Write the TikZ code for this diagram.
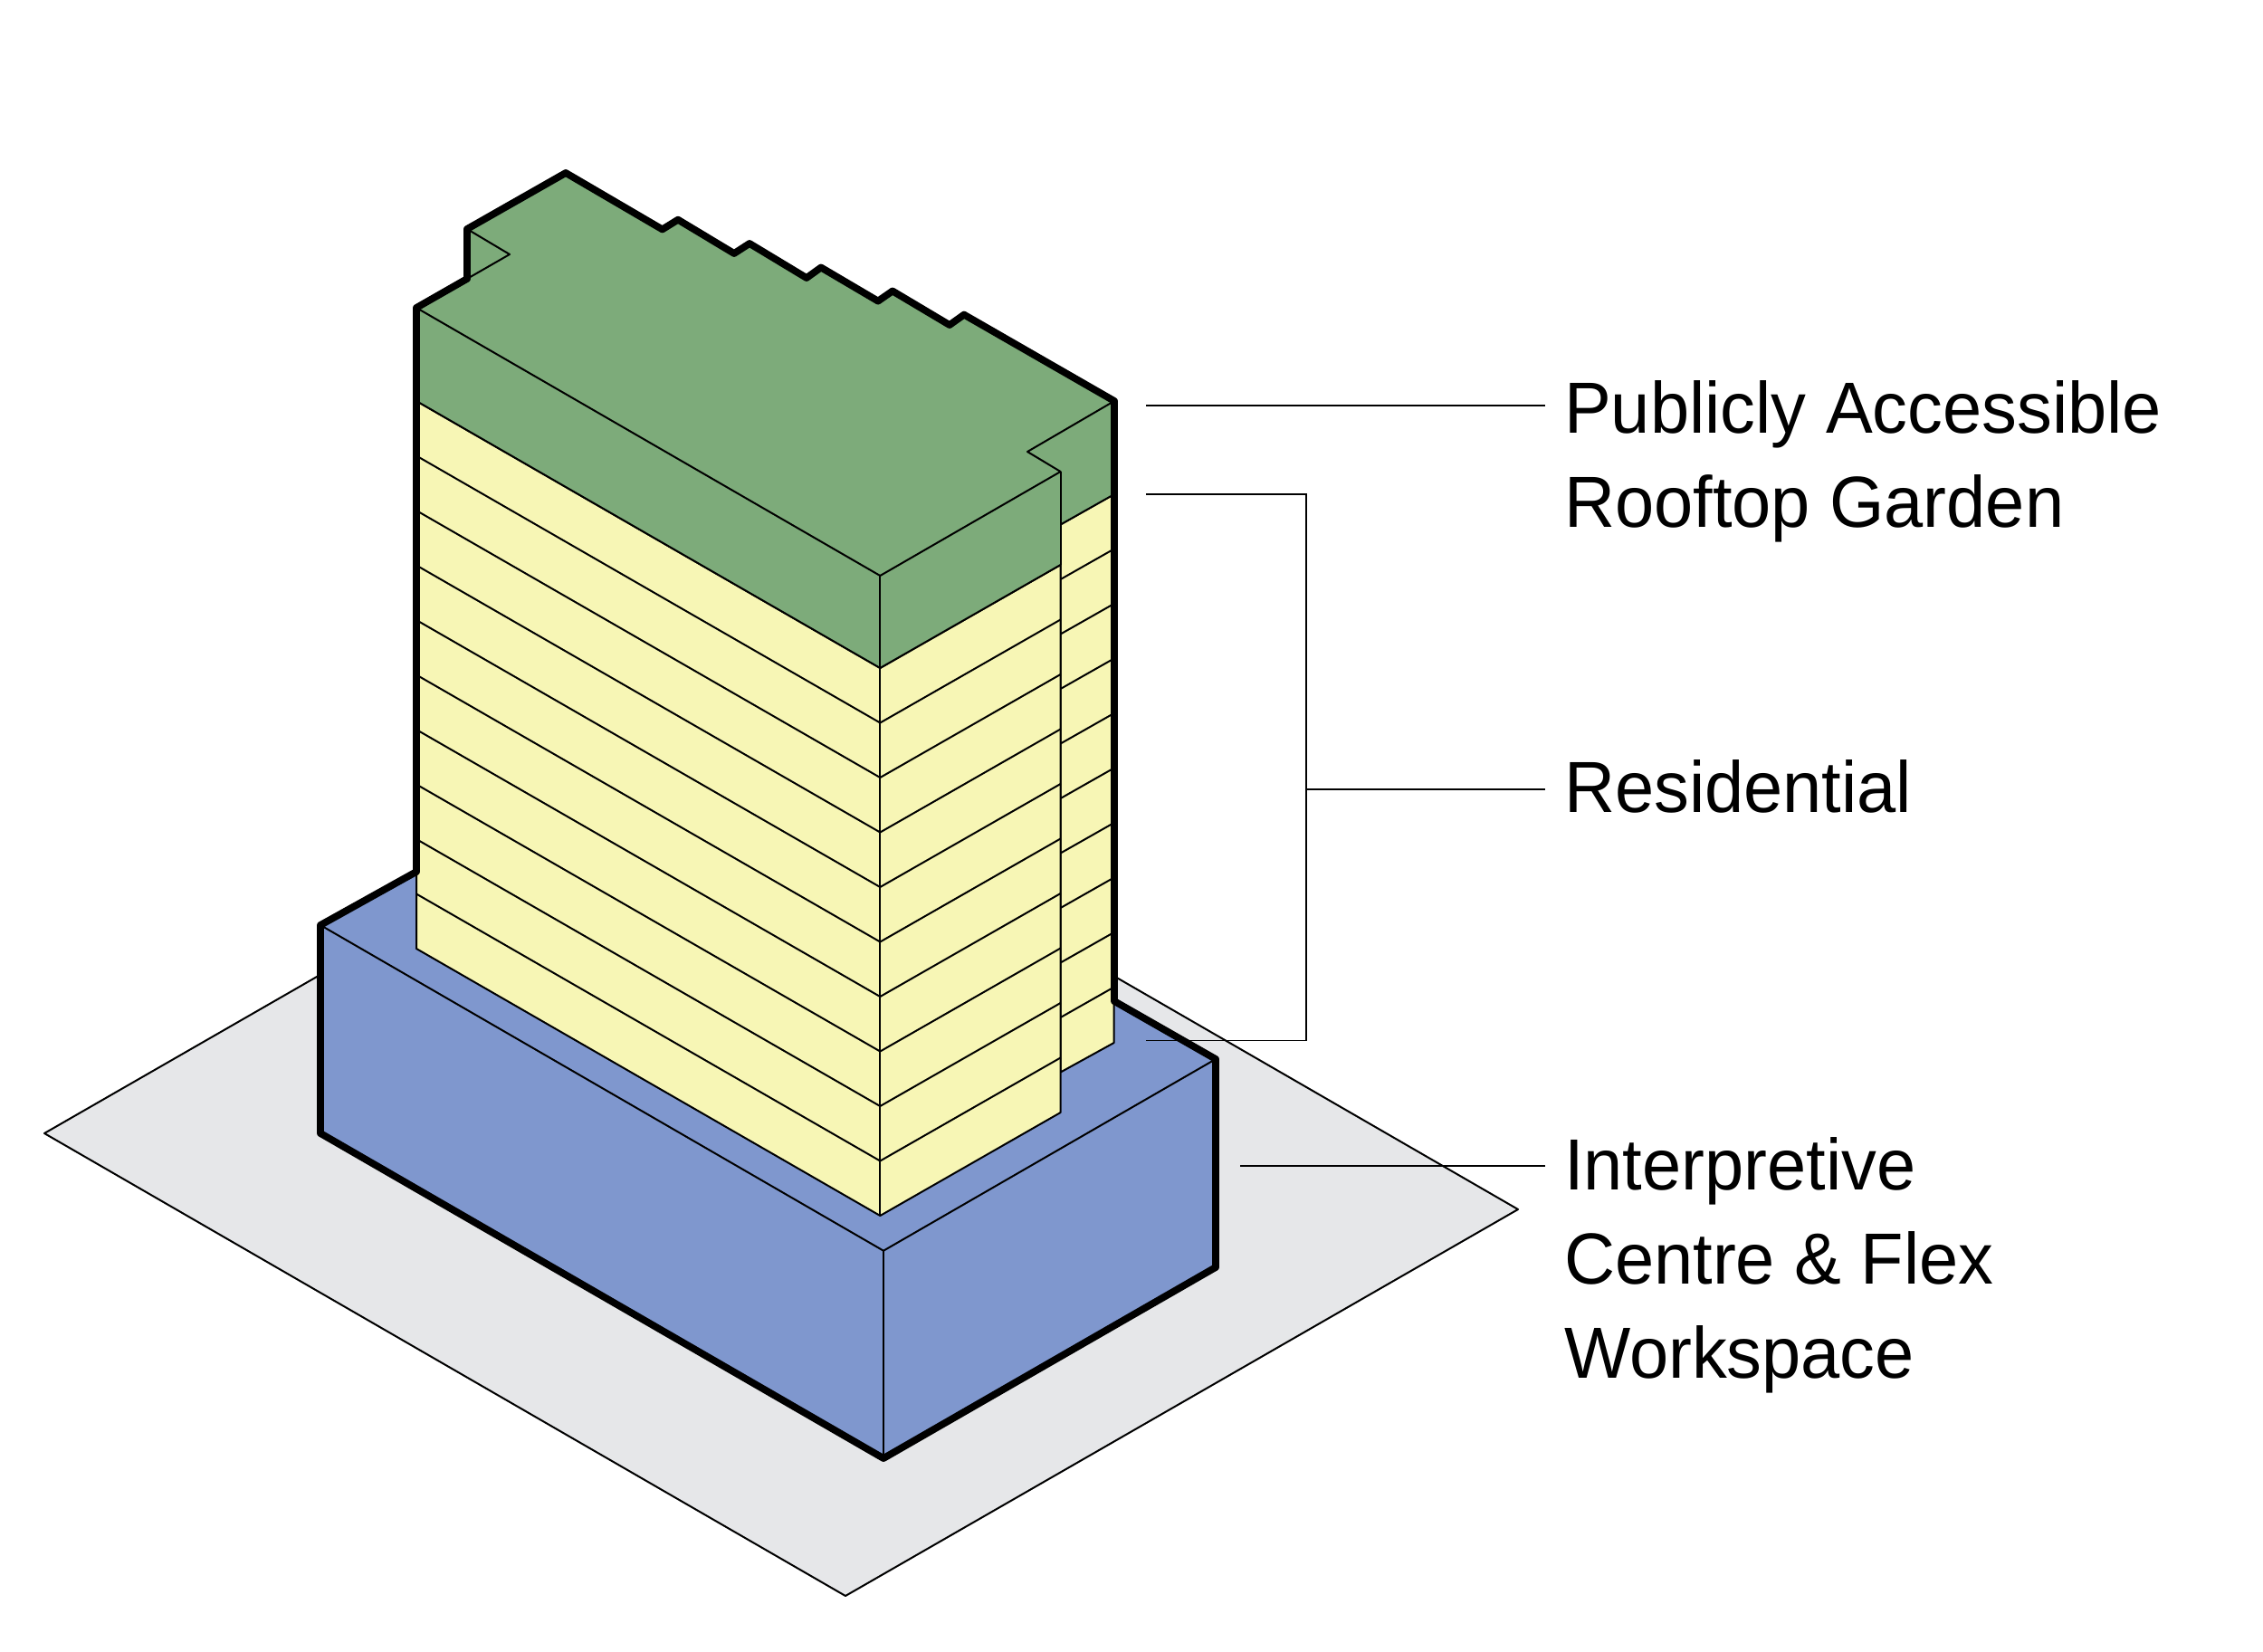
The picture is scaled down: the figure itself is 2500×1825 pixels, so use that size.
\documentclass[tikz,border=0pt]{standalone}
\usepackage{fontspec}
\setmainfont[FakeStretch=0.97]{Liberation Sans}
\definecolor{groundgrey}{HTML}{E6E7E9}
\definecolor{podiumblue}{HTML}{7F97CE}
\definecolor{flooryellow}{HTML}{F7F6B5}
\definecolor{roofgreen}{HTML}{7DAB7A}
\tikzset{
  thinline/.style={draw=black, line width=2pt, line join=round},
  outline/.style={draw=black, line width=7.8pt, line join=round},
  leader/.style={draw=black, line width=1.8pt},
  label/.style={anchor=base west, align=left, inner sep=0pt, font=\fontsize{80}{104}\selectfont}
}
\begin{document}
\begin{tikzpicture}[x=1pt,y=-1pt]
\useasboundingbox (0,0) rectangle (2500,1825);

\draw[thinline, fill=groundgrey] (49,1252) -- (792,825) -- (1677,1336) -- (934,1763) -- cycle;

\fill[podiumblue] (354,1022) -- (460,963) -- (1231,1106) -- (1343,1170) -- (1343,1400) -- (976,1611) -- (354,1252) -- cycle;
\draw[thinline] (354,1022) -- (976,1381.7) -- (1343,1170);
\draw[thinline] (976,1381.7) -- (976,1611);

\draw[thinline, fill=flooryellow] (1171.6,579.5) -- (1230.6,546) -- (1230.6,1152) -- (1171.6,1184.5) -- cycle;
\draw[thinline] (1171.6,640) -- (1230.6,606.5);
\draw[thinline] (1171.6,700.5) -- (1230.6,667);
\draw[thinline] (1171.6,761) -- (1230.6,727.5);
\draw[thinline] (1171.6,821.5) -- (1230.6,788);
\draw[thinline] (1171.6,882) -- (1230.6,848.5);
\draw[thinline] (1171.6,942.5) -- (1230.6,909);
\draw[thinline] (1171.6,1003) -- (1230.6,969.5);
\draw[thinline] (1171.6,1063.5) -- (1230.6,1030);
\draw[thinline] (1171.6,1124) -- (1230.6,1090.5);

\draw[thinline, fill=flooryellow] (460,443) -- (972.3,738) -- (1171.6,624) -- (1171.6,1229) -- (972.3,1343) -- (460,1048) -- cycle;
\draw[thinline] (460,503.5) -- (972.3,798.5) -- (1171.6,684.5);
\draw[thinline] (460,564) -- (972.3,859) -- (1171.6,745);
\draw[thinline] (460,624.5) -- (972.3,919.5) -- (1171.6,805.5);
\draw[thinline] (460,685) -- (972.3,980) -- (1171.6,866);
\draw[thinline] (460,745.5) -- (972.3,1040.5) -- (1171.6,926.5);
\draw[thinline] (460,806) -- (972.3,1101) -- (1171.6,987);
\draw[thinline] (460,866.5) -- (972.3,1161.5) -- (1171.6,1047.5);
\draw[thinline] (460,927) -- (972.3,1222) -- (1171.6,1108);
\draw[thinline] (460,987.5) -- (972.3,1282.5) -- (1171.6,1168.5);
\draw[thinline] (972.3,738) -- (972.3,1343);

\fill[roofgreen] (460,443) -- (460,340) -- (516,308) -- (516,253) -- (625,191) -- (731.7,253.4) -- (749,242.7) -- (811,280) -- (828,269) -- (891,307) -- (907,295.5) -- (970,332.6) -- (986,321.5) -- (1049,359) -- (1065,347.6) -- (1231,443) -- (1231,546) -- (1171.6,579.5) -- (1171.6,624) -- (972.3,738) -- cycle;
\draw[thinline] (460,443) -- (972.3,738) -- (1171.6,624);
\draw[thinline] (1171.6,579.5) -- (1231,546);
\draw[thinline] (460,340) -- (972.3,636) -- (1171.6,521) -- (1135,499) -- (1231,443);
\draw[thinline] (972.3,636) -- (972.3,738);
\draw[thinline] (1171.6,521) -- (1171.6,624);
\draw[thinline] (516,253) -- (563,281) -- (516,308);

\draw[outline] (354,1252) -- (354,1022) -- (460,963) -- (460,340) -- (516,308) -- (516,253) -- (625,191) -- (731.7,253.4) -- (749,242.7) -- (811,280) -- (828,269) -- (891,307) -- (907,295.5) -- (970,332.6) -- (986,321.5) -- (1049,359) -- (1065,347.6) -- (1231,443) -- (1231,1106) -- (1343,1170) -- (1343,1400) -- (976,1611) -- cycle;

\node[label] (rooftop) at (1728,582) {Publicly Accessible\\Rooftop Garden};
\node[label] (residential) at (1728,897) {Residential};
\node[label] (interpretive) at (1728,1522) {Interpretive\\Centre \& Flex\\Workspace};

\coordinate (rooftoptip) at (1266,448);
\coordinate (rooftopend) at (1707,448);
\coordinate (floorstop) at (1266,546);
\coordinate (floorsbottom) at (1266,1149.5);
\coordinate (floorsjoin) at (1443,872);
\coordinate (floorsend) at (1707,872);
\coordinate (podiumtip) at (1370,1288);
\coordinate (podiumend) at (1707,1288);

\draw[leader] (rooftoptip) -- (rooftopend);
\draw[leader] (floorstop) -| (floorsjoin) |- (floorsbottom);
\draw[leader] (floorsjoin) -- (floorsend);
\draw[leader] (podiumtip) -- (podiumend);
\end{tikzpicture}
\end{document}
